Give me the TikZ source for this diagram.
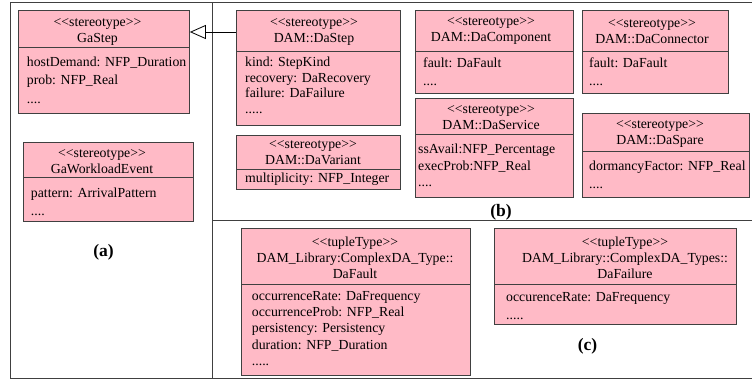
\documentclass[tikz,border=0pt]{standalone}
\usepackage{fontspec}
\setmainfont{Liberation Serif}
\usetikzlibrary{arrows.meta}

\definecolor{classpink}{RGB}{255,186,198}
\definecolor{lineGray}{RGB}{64,64,64}
\newcommand{\stereo}[1]{<\kern0pt<#1>\kern0pt>}

\tikzset{
  classbox/.style={draw=lineGray, fill=classpink, line width=0.85pt, anchor=north west, inner sep=0pt},
  divider/.style={draw=lineGray, line width=0.85pt},
  headtext/.style={align=center, inner sep=0pt, font=\fontsize{13.8}{16}\selectfont},
  attrtext/.style={align=left, anchor=north west, inner sep=0pt, font=\fontsize{13.8}{#1}\selectfont},
  attrtext/.default=16,
  sublabel/.style={inner sep=0pt, font=\fontsize{17.5}{20}\selectfont\bfseries},
  frame/.style={draw=lineGray, line width=0.9pt},
  inherit/.style={-{Triangle[open, length=16pt, width=14pt]}, line width=0.8pt}
}

\begin{document}
\begin{tikzpicture}[x=1pt, y=-1pt]
    \clip (0,0) rectangle (752,380);
    % Frame and panels:
    \draw[frame] (10.5,2.5) rectangle (760,378.5);
    \draw[frame] (212.5,2.5) -- (212.5,378.5);
    \draw[frame] (212.5,220.5) -- (760,220.5);

    % (a) Gaussian profile stereotypes:
    \node[classbox, minimum width=171, minimum height=103] (gastep) at (18,10) {};
    \draw[divider] (gastep.west |- 0,47) -- (gastep.east |- 0,47);
    \node[headtext] (gastephead) at (97.5,32) {\stereo{stereotype}\\GaStep};
    \node[attrtext=18.5] (gastepattr) at (26.7,56.6) {hostDemand: NFP\_Duration\\prob: NFP\_Real\\....};

    \node[classbox, minimum width=170, minimum height=79] (gaworkload) at (23,142) {};
    \draw[divider] (gaworkload.west |- 0,177) -- (gaworkload.east |- 0,177);
    \node[headtext] (gaworkloadhead) at (102,161.5) {\stereo{stereotype}\\GaWorkloadEvent};
    \node[attrtext=18] (gaworkloadattr) at (30.7,188.1) {pattern: ArrivalPattern\\....};

    % (b) DAM stereotypes:
    \node[classbox, minimum width=164, minimum height=115] (dastep) at (236,10) {};
    \draw[divider] (dastep.west |- 0,51) -- (dastep.east |- 0,51);
    \node[headtext] (dastephead) at (314,32) {\stereo{stereotype}\\DAM::DaStep};
    \node[attrtext=15.5] (dastepattr) at (245,57.1) {kind: StepKind\\recovery: DaRecovery\\failure: DaFailure\\.....};

    \node[classbox, minimum width=164, minimum height=54] (davariant) at (236,135) {};
    \draw[divider] (davariant.west |- 0,169) -- (davariant.east |- 0,169);
    \node[headtext] (davarianthead) at (313,153) {\stereo{stereotype}\\DAM::DaVariant};
    \node[attrtext] (davariantattr) at (245,173.1) {multiplicity: NFP\_Integer};

    \node[classbox, minimum width=158, minimum height=83] (dacomponent) at (415,10) {};
    \draw[divider] (dacomponent.west |- 0,51) -- (dacomponent.east |- 0,51);
    \node[headtext] (dacomponenthead) at (491,31.5) {\stereo{stereotype}\\DAM::DaComponent};
    \node[attrtext=18] (dacomponentattr) at (423,57.1) {fault: DaFault\\....};

    \node[classbox, minimum width=146, minimum height=83] (daconnector) at (582,10) {};
    \draw[divider] (daconnector.west |- 0,51) -- (daconnector.east |- 0,51);
    \node[headtext] (daconnectorhead) at (652,31.5) {\stereo{stereotype}\\DAM::DaConnector};
    \node[attrtext=18] (daconnectorattr) at (589,57.1) {fault: DaFault\\....};

    \node[classbox, minimum width=158, minimum height=99] (daservice) at (415,98) {};
    \draw[divider] (daservice.west |- 0,134) -- (daservice.east |- 0,134);
    \node[headtext] (daservicehead) at (491,117.5) {\stereo{stereotype}\\DAM::DaService};
    \node[attrtext=16.5] (daserviceattr) at (418,144.1) {ssAvail:NFP\_Percentage\\execProb:NFP\_Real\\....};

    \node[classbox, minimum width=167, minimum height=84] (daspare) at (582,113) {};
    \draw[divider] (daspare.west |- 0,151) -- (daspare.east |- 0,151);
    \node[headtext] (dasparehead) at (660,134.5) {\stereo{stereotype}\\DAM::DaSpare};
    \node[attrtext=17.5] (daspareattr) at (589,161.1) {dormancyFactor: NFP\_Real\\....};

    % (c) complex types:
    \node[classbox, minimum width=229, minimum height=147] (dafault) at (241,228) {};
    \draw[divider] (dafault.west |- 0,284) -- (dafault.east |- 0,284);
    \node[headtext] (dafaulthead) at (355,258) {\stereo{tupleType}\\DAM\_Library:ComplexDA\_Type::\\DaFault};
    \node[attrtext=16.3] (dafaultattr) at (251.7,291.1) {occurrenceRate: DaFrequency\\occurrenceProb: NFP\_Real\\persistency: Persistency\\duration: NFP\_Duration\\.....};

    \node[classbox, minimum width=242, minimum height=96] (dafailure) at (494,228) {};
    \draw[divider] (dafailure.west |- 0,284) -- (dafailure.east |- 0,284);
    \node[headtext] (dafailurehead) at (625,258) {\stereo{tupleType}\\DAM\_Library::ComplexDA\_Types::\\DaFailure};
    \node[attrtext=18] (dafailureattr) at (506,292.1) {occurenceRate: DaFrequency\\.....};

    % Generalization:
    \draw[inherit] (dastephead -| dastep.west) -- (gastephead -| gastep.east);

    % Panel labels:
    \node[sublabel] (labela) at (103.5,252.5) {(a)};
    \node[sublabel] (labelb) at (501,212.5) {(b)};
    \node[sublabel] (labelc) at (587.5,346.5) {(c)};
\end{tikzpicture}
\end{document}
